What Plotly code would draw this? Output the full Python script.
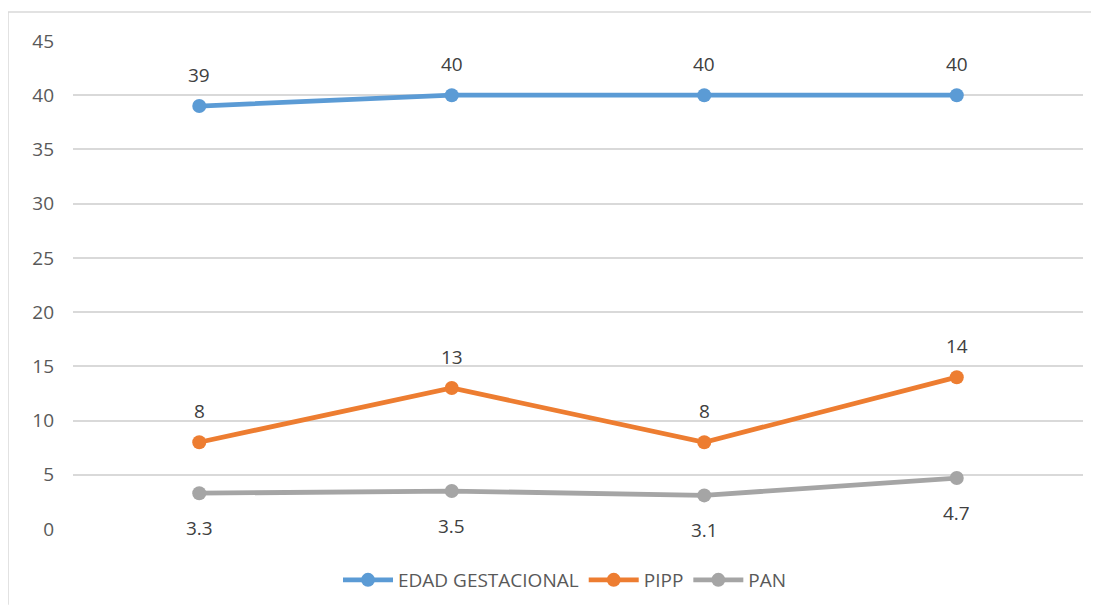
import plotly.graph_objects as go

categories = ["Grupo A", "Grupo B", "Grupo C", "Grupo D"]
edad_gestacional = [39, 40, 40, 40]
pipp = [8, 13, 8, 14]
pan = [3.3, 3.5, 3.1, 4.7]
tick_vals = [0, 5, 10, 15, 20, 25, 30, 35, 40, 45]

series = [
    ("EDAD GESTACIONAL", edad_gestacional, "#5B9BD5", 31),
    ("PIPP", pipp, "#ED7D31", 31),
    ("PAN", pan, "#A5A5A5", -35),
]

font_family = "Open Sans, Liberation Sans, sans-serif"
text_color = "#595959"

fig = go.Figure()
annotations = []
for name, vals, color, shift in series:
    fig.add_trace(go.Scatter(
        x=categories, y=vals, name=name, mode="lines+markers",
        line=dict(color=color, width=4.8),
        marker=dict(color=color, size=14),
    ))
    for i, v in enumerate(vals):
        annotations.append(dict(
            x=i, y=v, xref="x", yref="y", text=f"{v:g}", showarrow=False,
            yshift=shift, font=dict(size=19, color="#404040", family=font_family),
        ))

# page offset (body margin) of 8 px
OFF = 8
W, H = 1083, 598
ml, mr, mt, mb = 65, 8, 33, 76
pw, ph = W - ml - mr, H - mt - mb

def px_to_paper_x(px):
    return (px - OFF - ml) / pw

def px_to_paper_y(py):
    return (H - mb - (py - OFF)) / ph

border = dict(color="#D9D9D9", width=1.5)
fig.update_layout(
    width=W, height=H,
    margin=dict(l=ml, r=mr, t=mt, b=mb),
    paper_bgcolor="white", plot_bgcolor="white",
    font=dict(family=font_family, color=text_color, size=19),
    showlegend=True,
    legend=dict(
        orientation="h", x=px_to_paper_x(565), xanchor="center",
        y=px_to_paper_y(580), yanchor="middle",
        font=dict(size=19, color=text_color), itemwidth=50,
    ),
    annotations=annotations,
    shapes=[
        dict(type="line", xref="paper", yref="paper",
             x0=px_to_paper_x(8), x1=px_to_paper_x(1091),
             y0=px_to_paper_y(12), y1=px_to_paper_y(12),
             line=border, layer="below"),
        dict(type="line", xref="paper", yref="paper",
             x0=px_to_paper_x(8), x1=px_to_paper_x(8),
             y0=px_to_paper_y(12), y1=px_to_paper_y(606),
             line=border, layer="below"),
    ],
)
fig.update_xaxes(
    type="category", range=[-0.5, 3.5], showticklabels=False,
    showgrid=False, zeroline=False, showline=False,
)
fig.update_yaxes(
    range=[0, 45], tickvals=tick_vals, showgrid=True, gridcolor="#D9D9D9",
    gridwidth=1.5, zeroline=False, showline=False,
    tickfont=dict(size=19, color=text_color), ticklabelstandoff=18,
)

fig.write_html("out.html")
